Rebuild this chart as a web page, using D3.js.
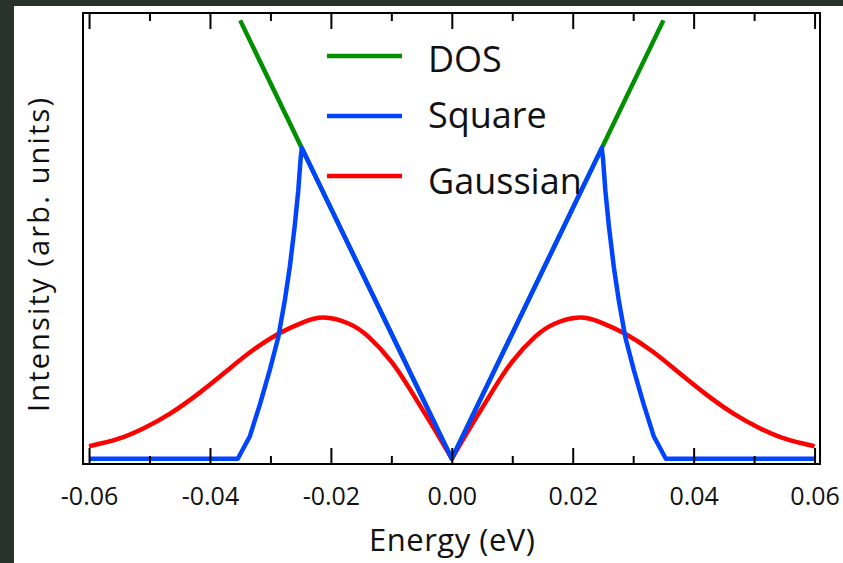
<!DOCTYPE html>
<html>
<head>
<meta charset="utf-8">
<script src="https://cdn.jsdelivr.net/npm/d3@7"></script>
<style>
  html, body { margin: 0; padding: 0; background: #28332b; }
  svg { display: block; }
</style>
</head>
<body>
<svg id="main-chart"></svg>
<script>
// values
const energyDOS = [-0.035, 0, 0.035];
const dos = [3.5, 0, 3.5];

const energySquare = [-0.06, -0.0354, -0.0334, -0.0317, -0.0301, -0.0287, -0.0276, -0.0268, -0.0260, -0.0254, -0.0250, -0.0248,
  0, 0.0248, 0.0250, 0.0254, 0.0260, 0.0268, 0.0276, 0.0287, 0.0301, 0.0317, 0.0334, 0.0354, 0.06];
const square = [0, 0, 0.18, 0.44, 0.71, 0.97, 1.27, 1.53, 1.85, 2.14, 2.40, 2.48,
  0, 2.48, 2.40, 2.14, 1.85, 1.53, 1.27, 0.97, 0.71, 0.44, 0.18, 0, 0];

const energyGauss = [-0.06, -0.0551, -0.0507, -0.0466, -0.0419, -0.0375, -0.0331, -0.0286, -0.0248, -0.0212, -0.0171, -0.0138, -0.0099, -0.0066, -0.0033,
  0, 0.0033, 0.0066, 0.0099, 0.0138, 0.0171, 0.0212, 0.0248, 0.0286, 0.0331, 0.0375, 0.0419, 0.0466, 0.0507, 0.0551, 0.06];
const gauss = [0.10, 0.16, 0.25, 0.36, 0.52, 0.69, 0.86, 1.0, 1.085, 1.127, 1.08, 0.975, 0.77, 0.53, 0.27,
  0, 0.27, 0.53, 0.77, 0.975, 1.08, 1.127, 1.085, 1.0, 0.86, 0.69, 0.52, 0.36, 0.25, 0.16, 0.10];

const majorTicks = [-0.06, -0.04, -0.02, 0, 0.02, 0.04, 0.06];
const majorLabels = ["-0.06", "-0.04", "-0.02", "0.00", "0.02", "0.04", "0.06"];
const minorTicks = [-0.05, -0.03, -0.01, 0.01, 0.03, 0.05];

const seriesNames = ["DOS", "Square", "Gaussian"];
const seriesColors = ["#009000", "#0044ff", "#ff0000"];

const width = 843;
const height = 563;
const plotLeft = 83, plotRight = 820, plotTop = 13, plotBottom = 464;
const font = "'Open Sans', 'Noto Sans', sans-serif";

const svg = d3.select("#main-chart")
    .attr("width", width)
    .attr("height", height);

svg.append("rect")
    .attr("x", 14).attr("y", 6)
    .attr("width", width - 14).attr("height", height - 6)
    .attr("fill", "white");

const x = d3.scaleLinear()
    .domain([-0.061, 0.0609])
    .range([plotLeft, plotRight]);

const y = d3.scaleLinear()
    .domain([-0.042, 3.559])
    .range([plotBottom, plotTop]);

// plot lines: DOS under Gaussian under Square
const line = d3.line()
    .x(d => x(d[0]))
    .y(d => y(d[1]));

const plot = svg.append("g")
    .attr("fill", "none")
    .attr("stroke-width", 4.5)
    .attr("stroke-linejoin", "round");

plot.append("path")
    .attr("stroke", seriesColors[0])
    .attr("d", line(d3.zip(energyDOS, dos)));

// gaussian drawn as two halves so the cusp at 0 stays sharp
const gaussPts = d3.zip(energyGauss, gauss);
const smooth = d3.line()
    .x(d => x(d[0]))
    .y(d => y(d[1]))
    .curve(d3.curveNatural);

plot.selectAll("path.gauss")
  .data([gaussPts.filter(d => d[0] <= 0), gaussPts.filter(d => d[0] >= 0)])
  .join("path")
    .attr("class", "gauss")
    .attr("stroke", seriesColors[2])
    .attr("d", smooth);

plot.append("path")
    .attr("stroke", seriesColors[1])
    .attr("d", line(d3.zip(energySquare, square)));

// frame + ticks
svg.append("rect")
    .attr("x", plotLeft).attr("y", plotTop)
    .attr("width", plotRight - plotLeft).attr("height", plotBottom - plotTop)
    .attr("fill", "none")
    .attr("stroke", "black")
    .attr("stroke-width", 2);

const xAxis = svg.append("g")
    .attr("transform", `translate(0,${plotBottom})`)
    .call(d3.axisBottom(x)
        .tickValues(majorTicks)
        .tickFormat((d, i) => majorLabels[i])
        .tickSizeInner(-16)
        .tickSizeOuter(0)
        .tickPadding(23));

svg.append("g")
    .attr("transform", `translate(0,${plotBottom})`)
    .call(d3.axisBottom(x).tickValues(minorTicks).tickFormat("").tickSizeInner(-8).tickSizeOuter(0));

svg.append("g")
    .attr("transform", `translate(0,${plotTop})`)
    .call(d3.axisTop(x).tickValues(majorTicks).tickFormat("").tickSizeInner(-16).tickSizeOuter(0));

svg.append("g")
    .attr("transform", `translate(0,${plotTop})`)
    .call(d3.axisTop(x).tickValues(minorTicks).tickFormat("").tickSizeInner(-8).tickSizeOuter(0));

svg.selectAll(".domain").remove();
svg.selectAll(".tick line").attr("stroke", "black").attr("stroke-width", 2);

xAxis.selectAll("text")
    .attr("font-family", font)
    .attr("font-size", 25)
    .attr("fill", "#111");

svg.append("text")
    .attr("x", 452).attr("y", 551)
    .attr("text-anchor", "middle")
    .attr("font-family", font)
    .attr("font-size", 31)
    .attr("textLength", 166)
    .attr("lengthAdjust", "spacing")
    .attr("fill", "#111")
    .text("Energy (eV)");

svg.append("text")
    .attr("transform", "translate(49,255) rotate(-90)")
    .attr("text-anchor", "middle")
    .attr("font-family", font)
    .attr("font-size", 29)
    .attr("textLength", 314)
    .attr("lengthAdjust", "spacing")
    .attr("fill", "#111")
    .text("Intensity (arb. units)");

// legend
const legendLineY = [56, 116, 176];
const legendTextY = [72, 128, 194];

const legend = svg.append("g");
legend.selectAll("line")
  .data(seriesNames)
  .join("line")
    .attr("x1", 327).attr("x2", 402)
    .attr("y1", (d, i) => legendLineY[i])
    .attr("y2", (d, i) => legendLineY[i])
    .attr("stroke", (d, i) => seriesColors[i])
    .attr("stroke-width", 4.5);

legend.selectAll("text")
  .data(seriesNames)
  .join("text")
    .attr("x", 428)
    .attr("y", (d, i) => legendTextY[i])
    .attr("font-family", font)
    .attr("font-size", 36)
    .attr("fill", "#111")
    .text(d => d);
</script>
</body>
</html>
